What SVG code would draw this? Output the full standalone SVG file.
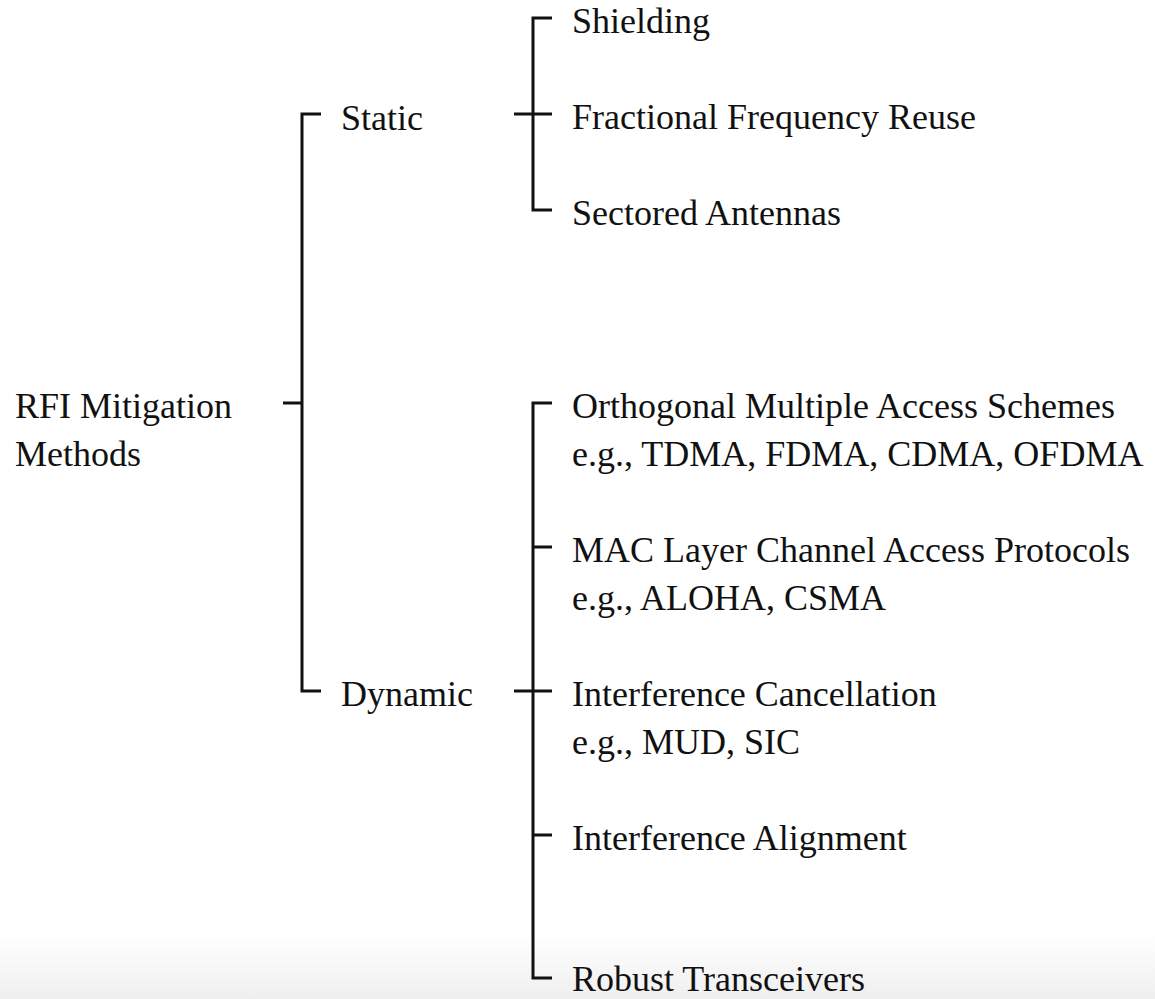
<svg xmlns="http://www.w3.org/2000/svg" width="1155" height="999" viewBox="0 0 1155 999">
<style>
text{font-family:"Liberation Serif","DejaVu Serif",serif;font-size:36px;fill:#111}
.c{fill:none;stroke:#111;stroke-width:3;stroke-linejoin:miter;stroke-linecap:butt}
</style>
<defs>
<linearGradient id="bg" x1="0" y1="0" x2="0" y2="1">
<stop offset="0" stop-color="#ffffff"/>
<stop offset="1" stop-color="#efefef"/>
</linearGradient>
</defs>
<rect width="1155" height="999" fill="#fff"/>
<rect y="935" width="1155" height="64" fill="url(#bg)"/>
<g id="connectors" class="c">
<path d="M283 403H302"/>
<path d="M321 114H302V691H321"/>
<path d="M514 114H552"/>
<path d="M552 18H533V210H552"/>
<path d="M514 691H552"/>
<path d="M552 403H533V978H552"/>
<path d="M533 547H552"/>
<path d="M533 835H552"/>
</g>
<g id="root"><text x="15" y="418">RFI Mitigation</text><text x="15" y="466">Methods</text></g>
<g id="static"><text x="341" y="130">Static</text></g>
<g id="dynamic"><text x="341" y="706">Dynamic</text></g>
<g id="shielding"><text x="572" y="33">Shielding</text></g>
<g id="ffr"><text x="572" y="129">Fractional Frequency Reuse</text></g>
<g id="sectored"><text x="572" y="225">Sectored Antennas</text></g>
<g id="orthogonal"><text x="572" y="418">Orthogonal Multiple Access Schemes</text><text x="572" y="466">e.g., TDMA, FDMA, CDMA, OFDMA</text></g>
<g id="mac"><text x="572" y="562">MAC Layer Channel Access Protocols</text><text x="572" y="610">e.g., ALOHA, CSMA</text></g>
<g id="cancellation"><text x="572" y="706">Interference Cancellation</text><text x="572" y="754">e.g., MUD, SIC</text></g>
<g id="alignment"><text x="572" y="850">Interference Alignment</text></g>
<g id="robust"><text x="572" y="991" font-size="35">Robust Transceivers</text></g>
</svg>
